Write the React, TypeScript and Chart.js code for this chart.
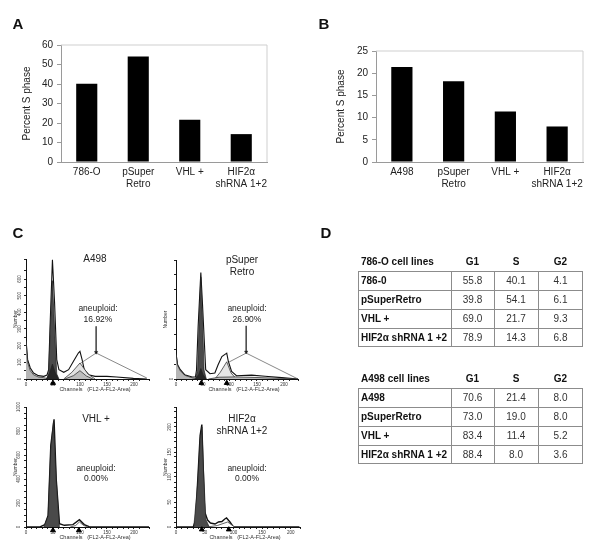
import React, { useEffect, useRef } from "react";
import { Chart, registerables } from "chart.js";

Chart.register(...registerables);
Chart.defaults.font.family = "'Liberation Sans', Arial, sans-serif";

// ---- Panels A and B ----
const barCategoriesA = ["786-O", ["pSuper", "Retro"], "VHL +", ["HIF2α", "shRNA 1+2"]];
const barValuesA = [40.1, 54.1, 21.7, 14.3];
const barCategoriesB = ["A498", ["pSuper", "Retro"], "VHL +", ["HIF2α", "shRNA 1+2"]];
const barValuesB = [21.4, 18.2, 11.4, 8.0];

// ---- Panel C/D histograms: A498 ----
const a498Channels = [0, 3, 8, 14, 23, 33, 39, 42, 45, 49, 53, 57, 61, 70, 79, 88, 97, 100, 104, 108, 116, 128, 150, 168, 199, 224];
const a498Total = [236, 116, 66, 36, 20, 16, 24, 56, 356, 716, 456, 116, 56, 40, 56, 106, 156, 166, 116, 56, 26, 16, 16, 12, 4, 0];
const a498G1Channels = [38, 42, 45, 49, 53, 57, 61];
const a498G1 = [0, 30, 300, 590, 300, 30, 0];
const a498G1BaseChannels = [38, 44, 49, 54, 60];
const a498G1Base = [0, 40, 90, 40, 0];
const a498DebrisChannels = [0, 3, 8, 14, 23, 33, 42];
const a498Debris = [230, 100, 50, 25, 12, 8, 0];
const a498G2Channels = [70, 85, 100, 115, 128];
const a498G2 = [0, 40, 96, 30, 0];
const a498G2InnerChannels = [72, 88, 100, 112, 124];
const a498G2Inner = [0, 20, 50, 18, 0];
const a498Markers = [50];
const a498BracketChannels = [100, 130, 224];
const a498BracketCounts = [92, 156, 6];
const a498ArrowChannels = [130, 130];
const a498ArrowCounts = [316, 160];

// pSuper Retro
const pSuperChannels = [0, 3, 8, 16, 30, 36, 38, 41, 46, 49, 55, 63, 72, 78, 85, 94, 97, 103, 112, 140, 165, 196, 226];
const pSuperTotal = [173, 95, 62, 29, 13, 13, 60, 350, 711, 506, 62, 35, 40, 95, 150, 173, 117, 51, 22, 26, 18, 9, 0];
const pSuperG1Channels = [36, 40, 43, 46, 49, 52, 56];
const pSuperG1 = [0, 60, 400, 680, 400, 60, 0];
const pSuperG1BaseChannels = [36, 42, 46, 50, 56];
const pSuperG1Base = [0, 30, 70, 30, 0];
const pSuperDebrisChannels = [0, 3, 8, 16, 30, 38];
const pSuperDebris = [165, 90, 55, 25, 8, 0];
const pSuperG2Channels = [72, 82, 94, 102, 112];
const pSuperG2 = [0, 45, 115, 40, 0];
const pSuperG2InnerChannels = [60, 80, 110, 150, 226];
const pSuperG2Inner = [0, 12, 14, 10, 0];
const pSuperMarkers = [47, 94];
const pSuperBracketChannels = [97, 130, 226];
const pSuperBracketCounts = [111, 173, 0];
const pSuperArrowChannels = [130, 130];
const pSuperArrowCounts = [355, 180];

// VHL +
const vhlChannels = [0, 26, 35, 41, 46, 52, 56, 62, 71, 87, 99, 108, 117, 228];
const vhlTotal = [0, 0, 20, 97, 680, 897, 400, 28, 14, 20, 61, 20, 3, 0];
const vhlG1Channels = [33, 41, 46, 51, 56, 62];
const vhlG1 = [0, 90, 650, 880, 390, 0];
const vhlG2Channels = [82, 92, 99, 107, 116];
const vhlG2 = [0, 12, 42, 12, 0];
const vhlMarkers = [50, 98];

// HIF2a shRNA 1+2
const hifChannels = [0, 30, 34, 38, 42, 45, 47.5, 50, 55, 60, 68, 74, 80, 85, 88, 91, 94, 100, 215];
const hifTotal = [0, 0, 13, 97, 183, 205, 117, 30, 14, 8, 6, 10, 11, 16, 18, 14, 10, 0, 0];
const hifG1Channels = [31, 38, 42, 45, 48, 52, 58];
const hifG1 = [0, 90, 175, 200, 110, 15, 0];
const hifG2Channels = [55, 72, 90, 102];
const hifG2 = [0, 3, 10, 0];
const hifMarkers = [45, 92];

// ---- Panel D tables ----
const tableColumns = ["G1", "S", "G2"];
const table786Title = "786-O cell lines";
const table786Rows = ["786-0", "pSuperRetro", "VHL +", "HIF2α shRNA 1 +2"];
const table786G1 = ["55.8", "39.8", "69.0", "78.9"];
const table786S = ["40.1", "54.1", "21.7", "14.3"];
const table786G2 = ["4.1", "6.1", "9.3", "6.8"];
const tableA498Title = "A498 cell lines";
const tableA498Rows = ["A498", "pSuperRetro", "VHL +", "HIF2α shRNA 1 +2"];
const tableA498G1 = ["70.6", "73.0", "83.4", "88.4"];
const tableA498S = ["21.4", "19.0", "11.4", "8.0"];
const tableA498G2 = ["8.0", "8.0", "5.2", "3.6"];

const pts = (xs: number[], ys: number[]) => xs.map((x, i) => ({ x, y: ys[i] }));

function useChart(ref: React.RefObject<HTMLCanvasElement | null>, make: () => any) {
  useEffect(() => {
    const chart = new Chart(ref.current as HTMLCanvasElement, make());
    return () => chart.destroy();
  }, []);
}

const framePlugin = {
  id: "frame",
  beforeDatasetsDraw(chart: any) {
    const { left, right, top, bottom } = chart.chartArea;
    const c = chart.ctx;
    c.save();
    c.strokeStyle = "#cfcfcf";
    c.lineWidth = 1;
    c.beginPath();
    c.moveTo(left, top);
    c.lineTo(right, top);
    c.lineTo(right, bottom);
    c.stroke();
    c.restore();
  },
};

function BarPanel(p: { x: number; w: number; h: number; padLeft: number; left: number; right: number; top: number; bottom: number; labels: any[]; values: number[]; max: number; step: number }) {
  const ref = useRef<HTMLCanvasElement>(null);
  useChart(ref, () => ({
    type: "bar",
    data: {
      labels: p.labels,
      datasets: [{ data: p.values, backgroundColor: "#000", barPercentage: 0.41, categoryPercentage: 1 }],
    },
    plugins: [framePlugin],
    options: {
      animation: false,
      responsive: false,
      layout: { padding: { left: p.padLeft, top: p.top, right: p.w - p.right, bottom: 0 } },
      plugins: { legend: { display: false }, tooltip: { enabled: false } },
      scales: {
        x: {
          afterFit: (s: any) => { s.height = p.h - p.bottom; },
          grid: { drawOnChartArea: false, drawTicks: false },
          border: { color: "#9a9a9a" },
          ticks: { color: "#222", font: { size: 10 }, padding: 4, maxRotation: 0, autoSkip: false },
        },
        y: {
          min: 0,
          max: p.max,
          afterFit: (s: any) => { s.width = p.left - p.padLeft; },
          grid: { drawOnChartArea: false, tickColor: "#9a9a9a", tickLength: 4 },
          border: { color: "#9a9a9a" },
          ticks: { color: "#222", font: { size: 10 }, stepSize: p.step, padding: 4 },
          title: { display: true, text: "Percent S phase", color: "#222", font: { size: 10 }, padding: 0 },
        },
      },
    },
  }));
  return <canvas ref={ref} width={p.w} height={p.h} style={{ position: "absolute", left: p.x, top: 0 }} />;
}

type Layer = { xs: number[]; ys: number[]; fill: string; line?: string };

function Histogram(p: {
  x: number; y: number; w: number; h: number;
  left: number; right: number; top: number; bottom: number;
  xMax: number; yMax: number; xMinor: number; yMinor: number; xMajor: number; yMajor: number;
  titleGap: number; totalWidth: number;
  total: [number[], number[]]; layers: Layer[];
  markers: number[]; markerY: number;
  bracket?: [number[], number[]]; arrow?: [number[], number[]];
}) {
  const ref = useRef<HTMLCanvasElement>(null);
  useChart(ref, () => {
    const datasets: any[] = [];
    datasets.push({ data: pts(p.markers, p.markers.map(() => p.markerY)), showLine: false, pointStyle: "triangle", pointRadius: 2.8, backgroundColor: "#000", borderColor: "#000", clip: false });
    if (p.arrow) datasets.push({ data: pts(p.arrow[0], p.arrow[1]), showLine: true, borderColor: "#333", borderWidth: 0.7, pointRadius: [0, 1.8], pointStyle: "triangle", pointRotation: 180, backgroundColor: "#000" });
    if (p.bracket) datasets.push({ data: pts(p.bracket[0], p.bracket[1]), showLine: true, borderColor: "#555", borderWidth: 0.7, pointRadius: 0 });
    p.layers.forEach((l) => datasets.push({ data: pts(l.xs, l.ys), showLine: true, fill: "origin", backgroundColor: l.fill, borderColor: l.line || "#222", borderWidth: 0.7, pointRadius: 0 }));
    datasets.push({ data: pts(p.total[0], p.total[1]), showLine: true, fill: "origin", backgroundColor: "#fff", borderColor: "#111", borderWidth: p.totalWidth, pointRadius: 0 });
    return {
      type: "scatter",
      data: { datasets },
      options: {
        animation: false,
        responsive: false,
        layout: { padding: { left: 0, top: p.top, right: p.w - p.right, bottom: 0 } },
        plugins: { legend: { display: false }, tooltip: { enabled: false } },
        scales: {
          x: {
            type: "linear", min: 0, max: p.xMax,
            afterFit: (s: any) => { s.height = p.h - p.bottom; },
            grid: { drawOnChartArea: false, tickColor: "#222", tickLength: 2 },
            border: { color: "#111" },
            ticks: {
              color: "#333", font: { size: 4.5 }, padding: 1.5, stepSize: p.xMinor, maxRotation: 0, autoSkip: false,
              callback: (v: number) => (v % p.xMajor === 0 ? String(v) : ""),
            },
          },
          y: {
            min: 0, max: p.yMax,
            afterFit: (s: any) => { s.width = p.left; },
            grid: { drawOnChartArea: false, tickColor: "#222", tickLength: 2 },
            border: { color: "#111" },
            ticks: {
              color: "#333", font: { size: 4.5 }, padding: 0.5, stepSize: p.yMinor, minRotation: 90, maxRotation: 90, crossAlign: "center", autoSkip: false,
              callback: (v: number) => (v % p.yMajor === 0 ? String(v) : ""),
            },
            title: { display: true, text: "Number", color: "#333", font: { size: 5 }, padding: { top: p.titleGap, bottom: 0 } },
          },
        },
      },
    };
  });
  return <canvas ref={ref} width={p.w} height={p.h} style={{ position: "absolute", left: p.x, top: p.y }} />;
}

function Txt(p: { x: number; y: number; size?: number; bold?: boolean; color?: string; children: React.ReactNode }) {
  return (
    <div style={{ position: "absolute", left: p.x - 100, top: p.y - 10, width: 200, height: 20, lineHeight: "20px", textAlign: "center", whiteSpace: "pre", fontSize: p.size || 10, fontWeight: p.bold ? 700 : 400, color: p.color || "#222" }}>
      {p.children}
    </div>
  );
}

const colEdges = [358, 451, 494, 538, 583];

function DataTable(p: { headY: number; top: number; title: string; rows: string[]; g1: string[]; s: string[]; g2: string[] }) {
  const rowH = 19;
  const cols = [p.g1, p.s, p.g2];
  const cell = (l: number, r: number, t: number, txt: string, opts: any) => (
    <div key={`${l}-${t}`} style={{ position: "absolute", left: l, top: t, width: r - l, height: rowH, lineHeight: `${rowH}px`, boxSizing: "border-box", fontSize: 10, whiteSpace: "pre", ...opts }}>{txt}</div>
  );
  return (
    <>
      {cell(colEdges[0] + 3, colEdges[1], p.headY - 9.5, p.title, { fontWeight: 700, color: "#111" })}
      {tableColumns.map((c, i) => cell(colEdges[i + 1], colEdges[i + 2], p.headY - 9.5, c, { fontWeight: 700, color: "#111", textAlign: "center" }))}
      <div style={{ position: "absolute", left: colEdges[0], top: p.top, width: colEdges[4] - colEdges[0], height: rowH * p.rows.length, boxSizing: "border-box", border: "1px solid #8c8c8c" }} />
      {p.rows.map((_, i) => i > 0 && <div key={`h${i}`} style={{ position: "absolute", left: colEdges[0], top: p.top + i * rowH, width: colEdges[4] - colEdges[0], height: 1, background: "#8c8c8c" }} />)}
      {[1, 2, 3].map((i) => <div key={`v${i}`} style={{ position: "absolute", left: colEdges[i], top: p.top, width: 1, height: rowH * p.rows.length, background: "#8c8c8c" }} />)}
      {p.rows.map((r, i) => cell(colEdges[0] + 3, colEdges[1], p.top + i * rowH, r, { fontWeight: 700, color: "#111" }))}
      {cols.map((col, c) => col.map((v, i) => cell(colEdges[c + 1], colEdges[c + 2], p.top + i * rowH, v, { textAlign: "center", color: "#333" })))}
    </>
  );
}

const DARK = "#4a4a4a";
const BASE = "#262626";

export default function App() {
  return (
    <div style={{ position: "absolute", left: 0, top: 0, width: 600, height: 556, background: "#fff", overflow: "hidden", fontFamily: "'Liberation Sans', Arial, sans-serif", filter: "blur(0.4px)" }}>
      <BarPanel x={0} w={300} h={210} padLeft={21} left={61} right={267} top={45} bottom={162} labels={barCategoriesA} values={barValuesA} max={60} step={10} />
      <BarPanel x={300} w={300} h={210} padLeft={35} left={76} right={283} top={51} bottom={162} labels={barCategoriesB} values={barValuesB} max={25} step={5} />

      <Histogram x={0} y={240} w={165} h={160} left={26} right={149} top={19} bottom={139} xMax={228} yMax={720} xMinor={10} yMinor={50} xMajor={50} yMajor={100} titleGap={13} totalWidth={1.1}
        total={[a498Channels, a498Total]} markers={a498Markers} markerY={-24} bracket={[a498BracketChannels, a498BracketCounts]} arrow={[a498ArrowChannels, a498ArrowCounts]}
        layers={[
          { xs: a498G1BaseChannels, ys: a498G1Base, fill: BASE },
          { xs: a498G1Channels, ys: a498G1, fill: DARK },
          { xs: a498G2InnerChannels, ys: a498G2Inner, fill: "#bdbdbd" },
          { xs: a498G2Channels, ys: a498G2, fill: "#e2e2e2" },
          { xs: a498DebrisChannels, ys: a498Debris, fill: "#b5b5b5" },
        ]} />
      <Histogram x={150} y={240} w={160} h={160} left={26} right={148} top={20} bottom={139} xMax={226} yMax={795} xMinor={10} yMinor={100} xMajor={50} yMajor={200} titleGap={13} totalWidth={1.1}
        total={[pSuperChannels, pSuperTotal]} markers={pSuperMarkers} markerY={-27} bracket={[pSuperBracketChannels, pSuperBracketCounts]} arrow={[pSuperArrowChannels, pSuperArrowCounts]}
        layers={[
          { xs: pSuperG1BaseChannels, ys: pSuperG1Base, fill: BASE },
          { xs: pSuperG1Channels, ys: pSuperG1, fill: DARK },
          { xs: pSuperG2InnerChannels, ys: pSuperG2Inner, fill: "#bdbdbd" },
          { xs: pSuperG2Channels, ys: pSuperG2, fill: "#e6e6e6" },
          { xs: pSuperDebrisChannels, ys: pSuperDebris, fill: "#b5b5b5" },
        ]} />
      <Histogram x={0} y={400} w={165} h={150} left={26} right={149} top={7} bottom={127} xMax={228} yMax={1000} xMinor={10} yMinor={50} xMajor={50} yMajor={200} titleGap={13} totalWidth={1.4}
        total={[vhlChannels, vhlTotal]} markers={vhlMarkers} markerY={-28}
        layers={[
          { xs: vhlG1Channels, ys: vhlG1, fill: DARK },
          { xs: vhlG2Channels, ys: vhlG2, fill: "#fff" },
        ]} />
      <Histogram x={150} y={400} w={160} h={150} left={26} right={150} top={7} bottom={127} xMax={216} yMax={240} xMinor={10} yMinor={10} xMajor={50} yMajor={50} titleGap={13} totalWidth={1.4}
        total={[hifChannels, hifTotal]} markers={hifMarkers} markerY={-5}
        layers={[
          { xs: hifG1Channels, ys: hifG1, fill: DARK },
          { xs: hifG2Channels, ys: hifG2, fill: "#fff" },
        ]} />

      <Txt x={18} y={24} size={15} bold color="#111">A</Txt>
      <Txt x={324} y={24} size={15} bold color="#111">B</Txt>
      <Txt x={18} y={233} size={15} bold color="#111">C</Txt>
      <Txt x={326} y={233} size={15} bold color="#111">D</Txt>

      <Txt x={95} y={259}>A498</Txt>
      <Txt x={242} y={260}>pSuper</Txt>
      <Txt x={242} y={272}>Retro</Txt>
      <Txt x={98} y={308} size={8.5}>aneuploid:</Txt>
      <Txt x={98} y={319} size={8.5}>16.92%</Txt>
      <Txt x={247} y={308} size={8.5}>aneuploid:</Txt>
      <Txt x={247} y={319} size={8.5}>26.90%</Txt>
      <Txt x={96} y={419}>VHL +</Txt>
      <Txt x={242} y={419}>HIF2α</Txt>
      <Txt x={242} y={431}>shRNA 1+2</Txt>
      <Txt x={96} y={468} size={8.5}>aneuploid:</Txt>
      <Txt x={96} y={478} size={8.5}>0.00%</Txt>
      <Txt x={247} y={468} size={8.5}>aneuploid:</Txt>
      <Txt x={247} y={478} size={8.5}>0.00%</Txt>

      <Txt x={95} y={389} size={5.5} color="#333">{"Channels   (FL2-A-FL2-Area)"}</Txt>
      <Txt x={244} y={389} size={5.5} color="#333">{"Channels   (FL2-A-FL2-Area)"}</Txt>
      <Txt x={95} y={537} size={5.5} color="#333">{"Channels   (FL2-A-FL2-Area)"}</Txt>
      <Txt x={245} y={537} size={5.5} color="#333">{"Channels   (FL2-A-FL2-Area)"}</Txt>

      <DataTable headY={261} top={271} title={table786Title} rows={table786Rows} g1={table786G1} s={table786S} g2={table786G2} />
      <DataTable headY={378} top={388} title={tableA498Title} rows={tableA498Rows} g1={tableA498G1} s={tableA498S} g2={tableA498G2} />
    </div>
  );
}
